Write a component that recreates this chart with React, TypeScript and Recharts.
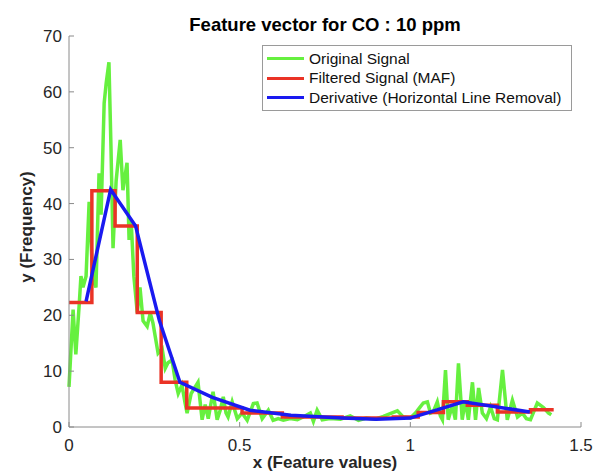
import { LineChart, Line, XAxis, YAxis, Legend } from 'recharts'

// original (noisy) signal
const greenX = [
  0, 0.012, 0.02, 0.03, 0.035, 0.041, 0.05, 0.059, 0.067, 0.073, 0.079, 0.088, 0.094, 0.103, 0.109, 0.117,
  0.123, 0.129, 0.138, 0.15, 0.158, 0.17, 0.176, 0.182, 0.19, 0.2, 0.208, 0.217, 0.229, 0.238, 0.246, 0.261,
  0.273, 0.282, 0.29, 0.302, 0.311, 0.32, 0.331, 0.34, 0.346, 0.358, 0.378, 0.39, 0.399, 0.408, 0.422, 0.434,
  0.443, 0.452, 0.46, 0.466, 0.478, 0.493, 0.507, 0.522, 0.54, 0.551, 0.566, 0.584, 0.598, 0.613, 0.628, 0.648,
  0.669, 0.686, 0.707, 0.716, 0.727, 0.742, 0.765, 0.795, 0.824, 0.848, 0.871, 0.897, 0.921, 0.941, 0.962, 0.979,
  1.0, 1.015, 1.029, 1.038, 1.05, 1.059, 1.067, 1.079, 1.088, 1.094, 1.103, 1.111, 1.123, 1.132, 1.141, 1.152,
  1.161, 1.17, 1.182, 1.191, 1.2, 1.211, 1.223, 1.235, 1.246, 1.255, 1.27, 1.284, 1.299, 1.314, 1.328, 1.34,
  1.352, 1.372, 1.39, 1.405, 1.413,
]
const greenY = [
  7.2, 21, 13, 22, 27, 25, 27, 40.3, 30, 26, 25, 45.4, 38, 58, 61.6, 65.3,
  50, 32, 44, 51.4, 42.4, 47.3, 33.5, 37, 27, 20.5, 25, 19, 18, 20.4, 18.6, 13.2,
  14, 10.5, 11.5, 12, 8.4, 6, 7.5, 4.3, 2.5, 6, 8, 1.3, 4, 1.5, 6.3, 1.3,
  3, 5.4, 2.5, 1.8, 4.5, 1.5, 2.5, 1.2, 4.2, 4.3, 1.5, 3, 1.2, 1.5, 1.2, 1.5,
  1.3, 1.8, 2.5, 1, 3, 1.3, 1.5, 1.4, 2, 1.2, 1.6, 1.4, 1.9, 2.4, 2.9, 1.8,
  1.6, 2.5, 3.6, 4.3, 4.5, 2.5, 2.7, 4.5, 2, 1.3, 10.2, 1.3, 3.8, 1.3, 11.4, 1.3,
  4.8, 1.3, 8, 1.3, 7, 2.5, 1.5, 3.6, 1.5, 1.3, 10.2, 1.3, 4.8, 1.8, 2.5, 1.5,
  1.3, 4.3, 3.5, 2.5, 2.2,
]

// moving average filter output (step levels)
const redX = [0, 0.067, 0.135, 0.2, 0.27, 0.345, 0.507, 0.625, 0.8, 0.95, 1.023, 1.097, 1.167, 1.255, 1.352, 1.42]
const redY = [22.3, 42.3, 36, 20.5, 8, 3.4, 2.5, 1.8, 1.6, 1.8, 2.6, 4.5, 3.9, 2.7, 3.1, 3.1]

// derivative / horizontal line removal
const blueX = [0.05, 0.122, 0.195, 0.265, 0.325, 0.42, 0.53, 0.65, 0.8, 0.9, 1.0, 1.155, 1.35]
const blueY = [22.5, 42.5, 36, 19, 8, 5.3, 3.0, 2.1, 1.6, 1.4, 1.6, 4.5, 2.7]

const seriesNames = ['Original Signal', 'Filtered Signal (MAF)', 'Derivative (Horizontal Line Removal)']
const xTicks = [0, 0.5, 1, 1.5]
const yTicks = [0, 10, 20, 30, 40, 50, 60, 70]

const toPoints = (xs: number[], ys: number[]) => xs.map((x, i) => ({ x, y: ys[i] }))

const FONT = '"Liberation Sans", Arial, Helvetica, sans-serif'
const AXIS = '#8a8a8a'
const TEXT = '#262626'
const PLOT_LEFT = 69
const PLOT_BOTTOM = 427

function YTick({ y, payload }: any) {
  return (
    <g>
      <line x1={PLOT_LEFT} x2={PLOT_LEFT + 5} y1={y} y2={y} stroke={AXIS} />
      <text x={PLOT_LEFT - 7} y={y} dy={6} textAnchor="end" fill={TEXT} fontSize={17} fontFamily={FONT}>
        {payload.value}
      </text>
    </g>
  )
}

function XTick({ x, payload }: any) {
  return (
    <g>
      <line x1={x} x2={x} y1={PLOT_BOTTOM} y2={PLOT_BOTTOM - 5} stroke={AXIS} />
      <text x={x} y={451} textAnchor="middle" fill={TEXT} fontSize={17} fontFamily={FONT}>
        {payload.value}
      </text>
    </g>
  )
}

function LegendBox({ payload }: any) {
  const items = [...(payload || [])].sort(
    (a: any, b: any) => seriesNames.indexOf(a.value) - seriesNames.indexOf(b.value)
  )
  return (
    <div
      style={{
        border: '1px solid #9a9a9a',
        background: '#fff',
        padding: '3px 0 2px 4px',
        fontFamily: FONT,
        fontSize: 15.5,
        color: '#111',
      }}
    >
      {items.map((p: any) => (
        <div key={p.value} style={{ display: 'flex', alignItems: 'center', height: 19.5, whiteSpace: 'nowrap' }}>
          <span style={{ display: 'inline-block', width: 37, height: 3, background: p.color, marginRight: 5 }} />
          <span>{p.value}</span>
        </div>
      ))}
    </div>
  )
}

export default function App() {
  return (
    <div style={{ position: 'absolute', left: 0, top: 0, width: 605, height: 473, background: '#fff', overflow: 'hidden' }}>
      <div
        style={{
          position: 'absolute',
          left: PLOT_LEFT,
          width: 512,
          top: 14,
          textAlign: 'center',
          fontFamily: FONT,
          fontWeight: 'bold',
          fontSize: 18.5,
          color: '#000',
          zIndex: 2,
        }}
      >
        Feature vector for CO : 10 ppm
      </div>
      <div
        style={{
          position: 'absolute',
          left: 27,
          top: 227,
          transform: 'translate(-50%, -50%) rotate(-90deg)',
          whiteSpace: 'nowrap',
          fontFamily: FONT,
          fontWeight: 'bold',
          fontSize: 17,
          color: TEXT,
          zIndex: 2,
        }}
      >
        y (Frequency)
      </div>
      <div
        style={{
          position: 'absolute',
          left: PLOT_LEFT,
          width: 512,
          top: 453,
          textAlign: 'center',
          fontFamily: FONT,
          fontWeight: 'bold',
          fontSize: 17,
          color: TEXT,
          zIndex: 2,
        }}
      >
        x (Feature values)
      </div>
      <LineChart width={605} height={473} margin={{ top: 36, right: 24, bottom: 0, left: 0 }}>
        <XAxis
          type="number"
          dataKey="x"
          domain={[0, 1.5]}
          ticks={xTicks}
          height={46}
          axisLine={{ stroke: AXIS }}
          tickLine={false}
          tick={<XTick />}
          allowDuplicatedCategory={false}
        />
        <YAxis
          type="number"
          dataKey="y"
          domain={[0, 70]}
          ticks={yTicks}
          width={69}
          axisLine={{ stroke: AXIS }}
          tickLine={false}
          tick={<YTick />}
        />
        <Legend
          layout="vertical"
          align="center"
          verticalAlign="middle"
          content={<LegendBox />}
          wrapperStyle={{ position: 'absolute', left: 262, top: 45, width: 310 }}
        />
        <Line
          data={toPoints(greenX, greenY)}
          dataKey="y"
          name={seriesNames[0]}
          stroke="#66f03f"
          strokeWidth={3.5}
          dot={false}
          isAnimationActive={false}
        />
        <Line
          data={toPoints(redX, redY)}
          dataKey="y"
          name={seriesNames[1]}
          type="stepAfter"
          stroke="#ea3326"
          strokeWidth={3.5}
          dot={false}
          isAnimationActive={false}
        />
        <Line
          data={toPoints(blueX, blueY)}
          dataKey="y"
          name={seriesNames[2]}
          stroke="#1a1af0"
          strokeWidth={3.5}
          dot={false}
          isAnimationActive={false}
        />
      </LineChart>
    </div>
  )
}
